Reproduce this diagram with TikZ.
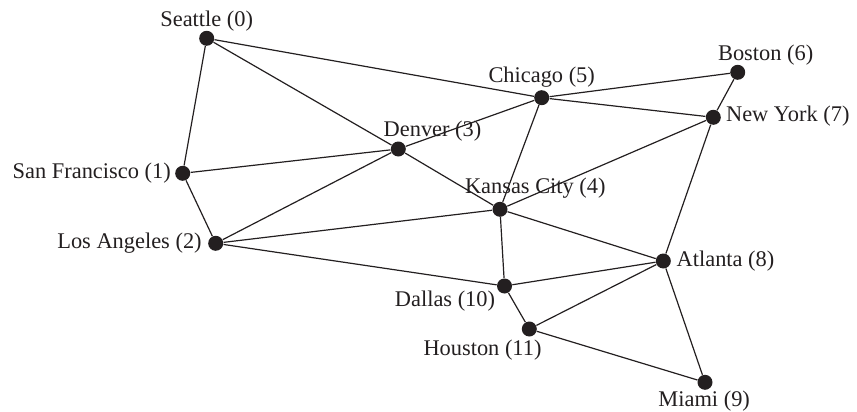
\documentclass[tikz,border=0pt]{standalone}
\usepackage{fontspec}
\setmainfont{Liberation Serif}
\definecolor{dotblack}{RGB}{35,31,32}

\begin{document}
\begin{tikzpicture}[
    x=0.5pt, y=-0.5pt,
    city/.style={circle, fill=dotblack, inner sep=0pt, minimum size=7.5pt},
    cityname/.style={inner sep=0pt, font=\fontsize{11.2}{13}\selectfont, text=dotblack},
    road/.style={line width=0.6pt, dotblack}
]
    \useasboundingbox (0,0) rectangle (857,412);

    % Cities
    \node[city] (sea) at (206.7, 38.3) {};
    \node[city] (sf)  at (182.7, 173.3) {};
    \node[city] (la)  at (215.7, 243.3) {};
    \node[city] (den) at (398.3, 149) {};
    \node[city] (kc)  at (500, 209.3) {};
    \node[city] (chi) at (541.7, 97.7) {};
    \node[city] (bos) at (737.7, 72.3) {};
    \node[city] (ny)  at (713.3, 117.3) {};
    \node[city] (atl) at (663.3, 261) {};
    \node[city] (mia) at (705, 382.3) {};
    \node[city] (dal) at (504.5, 286) {};
    \node[city] (hou) at (529.3, 329) {};

    % Names
    \node[cityname] (seaname) at (206.7, 20.7) {Seattle (0)};
    \node[cityname] (sfname)  at (91.7, 173.3) {San Francisco (1)};
    \node[cityname] (laname)  at (129.5, 243.3) {Los Angeles (2)};
    \node[cityname] (denname) at (432.5, 131) {Denver (3)};
    \node[cityname] (kcname)  at (535.3, 188.3) {Kansas City (4)};
    \node[cityname] (chiname) at (541.7, 77.3) {Chicago (5)};
    \node[cityname] (bosname) at (765.7, 55) {Boston (6)};
    \node[cityname] (nyname)  at (787.8, 116) {New York (7)};
    \node[cityname] (atlname) at (725.5, 260.7) {Atlanta (8)};
    \node[cityname] (mianame) at (704.2, 401) {Miami (9)};
    \node[cityname] (dalname) at (445, 301) {Dallas (10)};
    \node[cityname] (houname) at (482.5, 350) {Houston (11)};

    % Roads
    \draw[road] (sea) -- (sf);
    \draw[road] (sea) -- (den);
    \draw[road] (sea) -- (chi);
    \draw[road] (sf) -- (den);
    \draw[road] (sf) -- (la);
    \draw[road] (la) -- (den);
    \draw[road] (la) -- (kc);
    \draw[road] (la) -- (dal);
    \draw[road] (den) -- (chi);
    \draw[road] (den) -- (kc);
    \draw[road] (chi) -- (bos);
    \draw[road] (chi) -- (ny);
    \draw[road] (chi) -- (kc);
    \draw[road] (bos) -- (ny);
    \draw[road] (kc) -- (ny);
    \draw[road] (kc) -- (atl);
    \draw[road] (kc) -- (dal);
    \draw[road] (ny) -- (atl);
    \draw[road] (atl) -- (dal);
    \draw[road] (atl) -- (hou);
    \draw[road] (atl) -- (mia);
    \draw[road] (dal) -- (hou);
    \draw[road] (hou) -- (mia);

\end{tikzpicture}
\end{document}
